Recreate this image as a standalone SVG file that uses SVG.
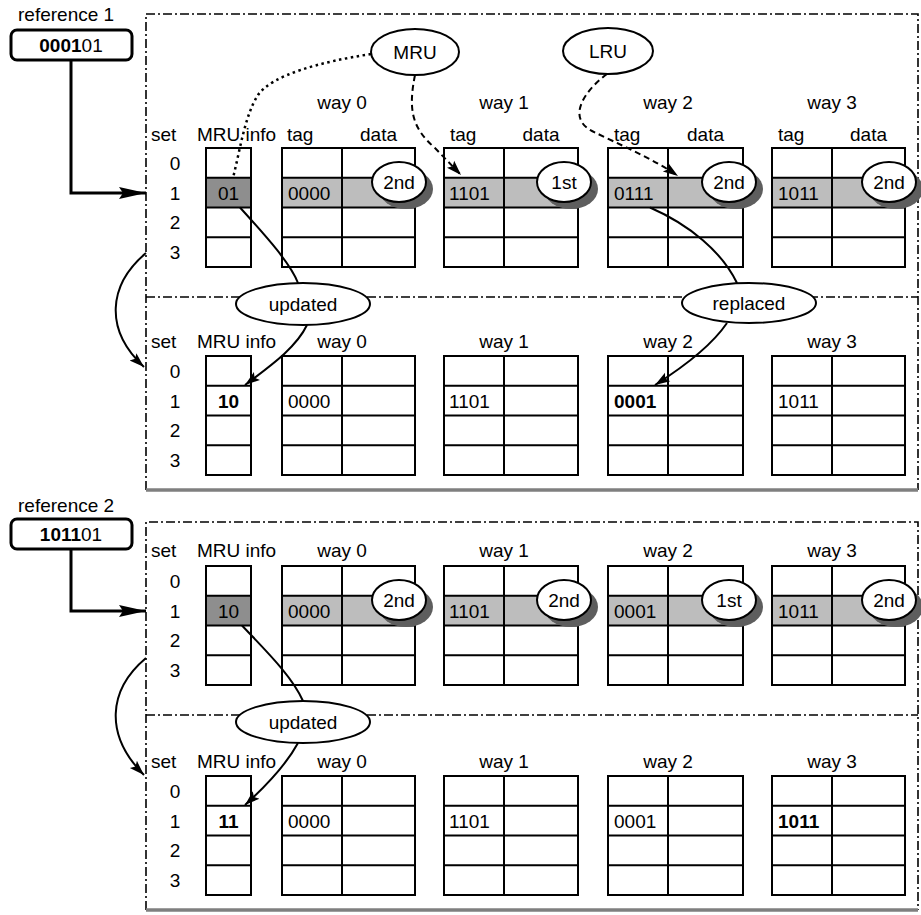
<svg xmlns="http://www.w3.org/2000/svg" width="921" height="915" viewBox="0 0 921 915">
<defs>
<style>
text{font-family:"Liberation Sans",Arial,Helvetica,sans-serif;font-size:19px;fill:#000}
.m{text-anchor:middle}
.b{font-weight:bold}
.grid{fill:none;stroke:#000;stroke-width:2}
.dd{fill:none;stroke:#000;stroke-width:1.6;stroke-dasharray:9 3 2 3}
.hv{fill:none;stroke:#7f7f7f;stroke-width:3.5}
.hl{fill:#bdbdbd}
.hlm{fill:#8e8e8e}
.shd{fill:#5e5e5e}
.ell{fill:#fff;stroke:#000;stroke-width:2}
.refbox{fill:#fff;stroke:#000;stroke-width:3}
.conn{fill:none;stroke:#000;stroke-width:2}
.thick{fill:none;stroke:#000;stroke-width:3}
.dash{fill:none;stroke:#000;stroke-width:2;stroke-dasharray:6 4}
.dot{fill:none;stroke:#000;stroke-width:2.5;stroke-dasharray:2.5 3.5}
</style>
<marker id="bigArrow" markerUnits="userSpaceOnUse" markerWidth="28" markerHeight="14" refX="27" refY="7" orient="auto"><path d="M0,1 L27,7 L0,13 L4,7 z" fill="#000"/></marker>
<marker id="arrow" markerUnits="userSpaceOnUse" markerWidth="16" markerHeight="12" refX="15" refY="6" orient="auto"><path d="M0,1 L15,6 L0,11 L3,6 z" fill="#000"/></marker>
</defs>
<rect width="921" height="915" fill="#fff"/>

<g id="frames">
<path class="dd" d="M146,490 V14 H918 V490"/>
<path class="dd" d="M146,297 H918"/>
<path class="hv" d="M146,490 H918"/>
<path class="dd" d="M146,910 V522 H918 V910"/>
<path class="dd" d="M146,715 H918"/>
<path class="hv" d="M146,910 H918"/>
</g>

<g id="ref1">
<text x="18" y="21">reference 1</text>
<rect class="refbox" x="11" y="30" width="121" height="30" rx="6"/>
<text class="m" x="71" y="52"><tspan class="b">0001</tspan>01</text>
</g>
<g id="ref2">
<text x="18" y="512">reference 2</text>
<rect class="refbox" x="11" y="519" width="121" height="30" rx="6"/>
<text class="m" x="71" y="541"><tspan class="b">1011</tspan>01</text>
</g>

<!-- Section 1 -->
<g id="s1-sets">
<text x="151" y="141">set</text>
<text class="m" x="175" y="170">0</text>
<text class="m" x="175" y="200">1</text>
<text class="m" x="175" y="229">2</text>
<text class="m" x="175" y="259">3</text>
</g>
<g id="s1-mru">
<text x="197" y="141">MRU info</text>
<rect class="hlm" x="206" y="177.75" width="45" height="29.75"/>
<rect class="grid" x="206" y="148" width="45" height="119"/>
<path class="grid" d="M206,177.75H251M206,207.5H251M206,237.25H251"/>
<text class="m" x="228.5" y="200">01</text>
</g>
<g id="s1-way0">
<text class="m" x="342" y="109">way 0</text>
<text x="287" y="141">tag</text>
<text class="m" x="378.5" y="141">data</text>
<rect class="hl" x="282" y="177.75" width="133" height="29.75"/>
<rect class="grid" x="282" y="148" width="133" height="119"/>
<path class="grid" d="M342,148V267M282,177.75H415M282,207.5H415M282,237.25H415"/>
<text x="288" y="200">0000</text>
<ellipse class="shd" cx="406" cy="189" rx="27" ry="20"/>
<ellipse class="ell" cx="399" cy="182" rx="27" ry="20"/>
<text class="m" x="399" y="189">2nd</text>
</g>
<g id="s1-way1">
<text class="m" x="504" y="109">way 1</text>
<text x="450" y="141">tag</text>
<text class="m" x="541" y="141">data</text>
<rect class="hl" x="444" y="177.75" width="134" height="29.75"/>
<rect class="grid" x="444" y="148" width="134" height="119"/>
<path class="grid" d="M504,148V267M444,177.75H578M444,207.5H578M444,237.25H578"/>
<text x="449" y="200">1101</text>
<ellipse class="shd" cx="571" cy="189" rx="27" ry="20"/>
<ellipse class="ell" cx="564" cy="182" rx="27" ry="20"/>
<text class="m" x="564" y="189">1st</text>
</g>
<g id="s1-way2">
<text class="m" x="668" y="109">way 2</text>
<text x="614" y="141">tag</text>
<text class="m" x="705.5" y="141">data</text>
<rect class="hl" x="608" y="177.75" width="135" height="29.75"/>
<rect class="grid" x="608" y="148" width="135" height="119"/>
<path class="grid" d="M668,148V267M608,177.75H743M608,207.5H743M608,237.25H743"/>
<text x="614" y="200">0111</text>
<ellipse class="shd" cx="736" cy="189" rx="27" ry="20"/>
<ellipse class="ell" cx="729" cy="182" rx="27" ry="20"/>
<text class="m" x="729" y="189">2nd</text>
</g>
<g id="s1-way3">
<text class="m" x="832" y="109">way 3</text>
<text x="778" y="141">tag</text>
<text class="m" x="868.5" y="141">data</text>
<rect class="hl" x="772" y="177.75" width="133" height="29.75"/>
<rect class="grid" x="772" y="148" width="133" height="119"/>
<path class="grid" d="M832,148V267M772,177.75H905M772,207.5H905M772,237.25H905"/>
<text x="778" y="200">1011</text>
<ellipse class="shd" cx="896" cy="189" rx="27" ry="20"/>
<ellipse class="ell" cx="889" cy="182" rx="27" ry="20"/>
<text class="m" x="889" y="189">2nd</text>
</g>

<!-- Section 2 -->
<g id="s2-sets">
<text x="151" y="348">set</text>
<text class="m" x="175" y="378">0</text>
<text class="m" x="175" y="408">1</text>
<text class="m" x="175" y="437">2</text>
<text class="m" x="175" y="467">3</text>
</g>
<g id="s2-mru">
<text x="197" y="348">MRU info</text>
<rect class="grid" x="206" y="356" width="45" height="119"/>
<path class="grid" d="M206,385.75H251M206,415.5H251M206,445.25H251"/>
<text class="m b" x="228.5" y="408">10</text>
</g>
<g id="s2-way0">
<text class="m" x="342" y="348">way 0</text>
<rect class="grid" x="282" y="356" width="133" height="119"/>
<path class="grid" d="M342,356V475M282,385.75H415M282,415.5H415M282,445.25H415"/>
<text x="288" y="408">0000</text>
</g>
<g id="s2-way1">
<text class="m" x="504" y="348">way 1</text>
<rect class="grid" x="444" y="356" width="134" height="119"/>
<path class="grid" d="M504,356V475M444,385.75H578M444,415.5H578M444,445.25H578"/>
<text x="449" y="408">1101</text>
</g>
<g id="s2-way2">
<text class="m" x="668" y="348">way 2</text>
<rect class="grid" x="608" y="356" width="135" height="119"/>
<path class="grid" d="M668,356V475M608,385.75H743M608,415.5H743M608,445.25H743"/>
<text class="b" x="614" y="408">0001</text>
</g>
<g id="s2-way3">
<text class="m" x="832" y="348">way 3</text>
<rect class="grid" x="772" y="356" width="133" height="119"/>
<path class="grid" d="M832,356V475M772,385.75H905M772,415.5H905M772,445.25H905"/>
<text x="778" y="408">1011</text>
</g>

<!-- Section 3 -->
<g id="s3-sets">
<text x="151" y="557">set</text>
<text class="m" x="175" y="588">0</text>
<text class="m" x="175" y="618">1</text>
<text class="m" x="175" y="647">2</text>
<text class="m" x="175" y="677">3</text>
</g>
<g id="s3-mru">
<text x="197" y="557">MRU info</text>
<rect class="hlm" x="206" y="595.75" width="45" height="29.75"/>
<rect class="grid" x="206" y="566" width="45" height="119"/>
<path class="grid" d="M206,595.75H251M206,625.5H251M206,655.25H251"/>
<text class="m" x="228.5" y="618">10</text>
</g>
<g id="s3-way0">
<text class="m" x="342" y="557">way 0</text>
<rect class="hl" x="282" y="595.75" width="133" height="29.75"/>
<rect class="grid" x="282" y="566" width="133" height="119"/>
<path class="grid" d="M342,566V685M282,595.75H415M282,625.5H415M282,655.25H415"/>
<text x="288" y="618">0000</text>
<ellipse class="shd" cx="406" cy="607" rx="27" ry="20"/>
<ellipse class="ell" cx="399" cy="600" rx="27" ry="20"/>
<text class="m" x="399" y="607">2nd</text>
</g>
<g id="s3-way1">
<text class="m" x="504" y="557">way 1</text>
<rect class="hl" x="444" y="595.75" width="134" height="29.75"/>
<rect class="grid" x="444" y="566" width="134" height="119"/>
<path class="grid" d="M504,566V685M444,595.75H578M444,625.5H578M444,655.25H578"/>
<text x="449" y="618">1101</text>
<ellipse class="shd" cx="571" cy="607" rx="27" ry="20"/>
<ellipse class="ell" cx="564" cy="600" rx="27" ry="20"/>
<text class="m" x="564" y="607">2nd</text>
</g>
<g id="s3-way2">
<text class="m" x="668" y="557">way 2</text>
<rect class="hl" x="608" y="595.75" width="135" height="29.75"/>
<rect class="grid" x="608" y="566" width="135" height="119"/>
<path class="grid" d="M668,566V685M608,595.75H743M608,625.5H743M608,655.25H743"/>
<text x="614" y="618">0001</text>
<ellipse class="shd" cx="736" cy="607" rx="27" ry="20"/>
<ellipse class="ell" cx="729" cy="600" rx="27" ry="20"/>
<text class="m" x="729" y="607">1st</text>
</g>
<g id="s3-way3">
<text class="m" x="832" y="557">way 3</text>
<rect class="hl" x="772" y="595.75" width="133" height="29.75"/>
<rect class="grid" x="772" y="566" width="133" height="119"/>
<path class="grid" d="M832,566V685M772,595.75H905M772,625.5H905M772,655.25H905"/>
<text x="778" y="618">1011</text>
<ellipse class="shd" cx="896" cy="607" rx="27" ry="20"/>
<ellipse class="ell" cx="889" cy="600" rx="27" ry="20"/>
<text class="m" x="889" y="607">2nd</text>
</g>

<!-- Section 4 -->
<g id="s4-sets">
<text x="151" y="768">set</text>
<text class="m" x="175" y="798">0</text>
<text class="m" x="175" y="828">1</text>
<text class="m" x="175" y="857">2</text>
<text class="m" x="175" y="887">3</text>
</g>
<g id="s4-mru">
<text x="197" y="768">MRU info</text>
<rect class="grid" x="206" y="776" width="45" height="119"/>
<path class="grid" d="M206,805.75H251M206,835.5H251M206,865.25H251"/>
<text class="m b" x="228.5" y="828">11</text>
</g>
<g id="s4-way0">
<text class="m" x="342" y="768">way 0</text>
<rect class="grid" x="282" y="776" width="133" height="119"/>
<path class="grid" d="M342,776V895M282,805.75H415M282,835.5H415M282,865.25H415"/>
<text x="288" y="828">0000</text>
</g>
<g id="s4-way1">
<text class="m" x="504" y="768">way 1</text>
<rect class="grid" x="444" y="776" width="134" height="119"/>
<path class="grid" d="M504,776V895M444,805.75H578M444,835.5H578M444,865.25H578"/>
<text x="449" y="828">1101</text>
</g>
<g id="s4-way2">
<text class="m" x="668" y="768">way 2</text>
<rect class="grid" x="608" y="776" width="135" height="119"/>
<path class="grid" d="M668,776V895M608,805.75H743M608,835.5H743M608,865.25H743"/>
<text x="614" y="828">0001</text>
</g>
<g id="s4-way3">
<text class="m" x="832" y="768">way 3</text>
<rect class="grid" x="772" y="776" width="133" height="119"/>
<path class="grid" d="M832,776V895M772,805.75H905M772,835.5H905M772,865.25H905"/>
<text class="b" x="778" y="828">1011</text>
</g>

<g id="connectors">
<path class="thick" d="M71,60 V193 H146" marker-end="url(#bigArrow)"/>
<path class="thick" d="M71,549 V611 H146" marker-end="url(#bigArrow)"/>
<path class="conn" d="M146,253 C108,285 104,330 144,367" marker-end="url(#arrow)"/>
<path class="conn" d="M146,658 C108,690 104,735 144,775" marker-end="url(#arrow)"/>
<path class="dot" d="M371,54 C320,62 272,75 258,95 C245,115 240,150 233,178"/>
<path class="dash" d="M415,75 C408,110 412,128 435,148 L461,175" marker-end="url(#arrow)"/>
<path class="dash" d="M607,74 C583,92 567,118 592,131 C618,144 652,158 678,176" marker-end="url(#arrow)"/>
<path class="conn" d="M240,207.5 C262,232 290,262 298,283"/>
<path class="conn" d="M307,325 C296,348 270,366 245,385" marker-end="url(#arrow)"/>
<path class="conn" d="M650,207.5 C690,225 722,252 737,283"/>
<path class="conn" d="M727,323 C712,345 685,366 655,385" marker-end="url(#arrow)"/>
<path class="conn" d="M242,625.5 C265,650 292,676 303,701"/>
<path class="conn" d="M298,743 C286,765 266,786 245,805" marker-end="url(#arrow)"/>
</g>

<g id="lbl-mru">
<ellipse class="ell" cx="415" cy="52" rx="44" ry="23"/>
<text class="m" x="415" y="59">MRU</text>
</g>
<g id="lbl-lru">
<ellipse class="ell" cx="608" cy="51" rx="45" ry="23"/>
<text class="m" x="608" y="58">LRU</text>
</g>
<g id="lbl-updated1">
<ellipse class="ell" cx="303" cy="304" rx="67" ry="21"/>
<text class="m" x="303" y="311">updated</text>
</g>
<g id="lbl-replaced">
<ellipse class="ell" cx="749" cy="303" rx="67" ry="20"/>
<text class="m" x="749" y="310">replaced</text>
</g>
<g id="lbl-updated2">
<ellipse class="ell" cx="303" cy="722" rx="67" ry="21"/>
<text class="m" x="303" y="729">updated</text>
</g>
</svg>
